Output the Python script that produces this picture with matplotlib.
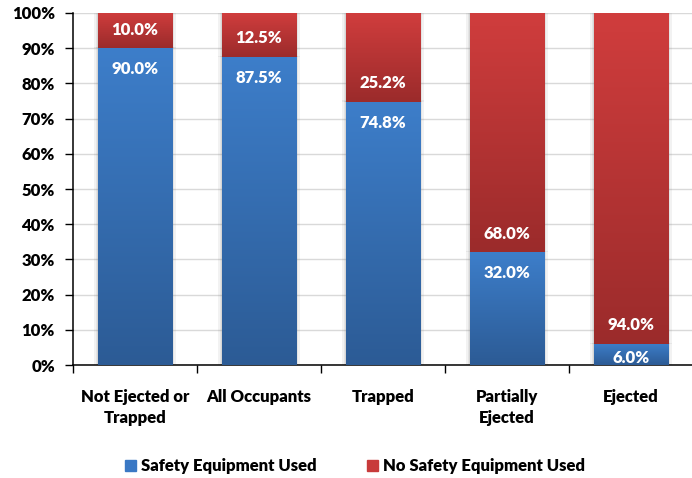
import numpy as np
import matplotlib
matplotlib.use("Agg")
import matplotlib.pyplot as plt
from matplotlib.colors import LinearSegmentedColormap
from matplotlib.patches import Rectangle
from matplotlib.ticker import MultipleLocator, FuncFormatter

categories = ["Not Ejected or\nTrapped", "All Occupants", "Trapped", "Partially\nEjected", "Ejected"]
used = [90.0, 87.5, 74.8, 32.0, 6.0]
not_used = [10.0, 12.5, 25.2, 68.0, 94.0]
series_names = ["Safety Equipment Used", "No Safety Equipment Used"]

FS = 12
WEIGHT = "heavy"
plt.rcParams["font.family"] = ["Lato", "DejaVu Sans"]
plt.rcParams["font.weight"] = WEIGHT

W, H = 692, 478
fig = plt.figure(figsize=(W / 100, H / 100), dpi=100)
ax = fig.add_axes([73 / W, 113 / H, 620 / W, 352 / H])

blue_cmap = LinearSegmentedColormap.from_list("blue", ["#2c5b95", "#3d7eca"])
red_cmap = LinearSegmentedColormap.from_list("red", ["#9b2b2b", "#d03d3d"])
grad = np.linspace(0, 1, 256).reshape(-1, 1)

x = np.arange(len(categories))
width = 0.6
bars_used = ax.bar(x, used, width, color="#3b7bc8", label=series_names[0], zorder=3)
bars_not = ax.bar(x, not_used, width, bottom=used, color="#c83a3a", label=series_names[1], zorder=3)

# replace the flat fills with vertical gradients and a faint drop shadow
for bars, cmap in ((bars_used, blue_cmap), (bars_not, red_cmap)):
    for p in bars:
        x0, y0, w, h = p.get_x(), p.get_y(), p.get_width(), p.get_height()
        for k, a in ((0.03, 0.10), (0.018, 0.12), (0.008, 0.14)):
            ax.add_patch(Rectangle((x0 - k, y0), w + 2 * k, h + k * 12, color="#808080",
                                   alpha=a, lw=0, zorder=2))
        ax.imshow(grad, cmap=cmap, aspect="auto", origin="lower",
                  extent=(x0, x0 + w, y0, y0 + h), zorder=3.5, interpolation="bilinear")
        p.set_visible(False)

# value labels: inside the top of the blue segment, inside the base of the red segment
for xi, u, n in zip(x, used, not_used):
    yb = max(u - 6.0, 2.0)
    ax.text(xi, yb, f"{u:.1f}%", ha="center", va="center", color="white",
            fontsize=FS, fontweight=WEIGHT, zorder=5)
    ax.text(xi, u + 5.3, f"{n:.1f}%", ha="center", va="center", color="white",
            fontsize=FS, fontweight=WEIGHT, zorder=5)

ax.set_xlim(-0.5, 4.5)
ax.set_ylim(0, 100)
ax.yaxis.set_major_locator(MultipleLocator(10))
ax.yaxis.set_major_formatter(FuncFormatter(lambda v, _: f"{v:.0f}%"))
ax.grid(axis="y", color="#d9d9d9", lw=1.0, zorder=0)
ax.set_axisbelow(True)

ax.set_xticks(np.arange(-0.5, 5.0, 1.0))
ax.set_xticklabels([])
ax.set_xticks(x, minor=True)
ax.set_xticklabels(categories, minor=True, fontsize=FS, fontweight=WEIGHT,
                   linespacing=1.45, va="top")
ax.tick_params(axis="x", which="minor", length=0, pad=17)
ax.tick_params(axis="x", which="major", direction="out", length=6, width=1, color="black")
ax.tick_params(axis="y", direction="out", length=6, width=1, color="black",
               labelsize=FS, pad=7)
for lbl in ax.get_yticklabels():
    lbl.set_fontweight(WEIGHT)

for s in ("top", "right"):
    ax.spines[s].set_visible(False)
for s in ("left", "bottom"):
    ax.spines[s].set_color("black")
    ax.spines[s].set_linewidth(1.1)

handles = [Rectangle((0, 0), 1, 1, color="#3a78c4"), Rectangle((0, 0), 1, 1, color="#c83a3a")]
leg = fig.legend(handles, series_names, loc="center", bbox_to_anchor=(355 / W, 1 - 466 / H),
                 ncol=2, frameon=False, fontsize=FS, handlelength=0.65, handleheight=0.65,
                 handletextpad=0.3, columnspacing=3.0)
for t in leg.get_texts():
    t.set_fontweight(WEIGHT)

fig.savefig("out.png", dpi=100)
